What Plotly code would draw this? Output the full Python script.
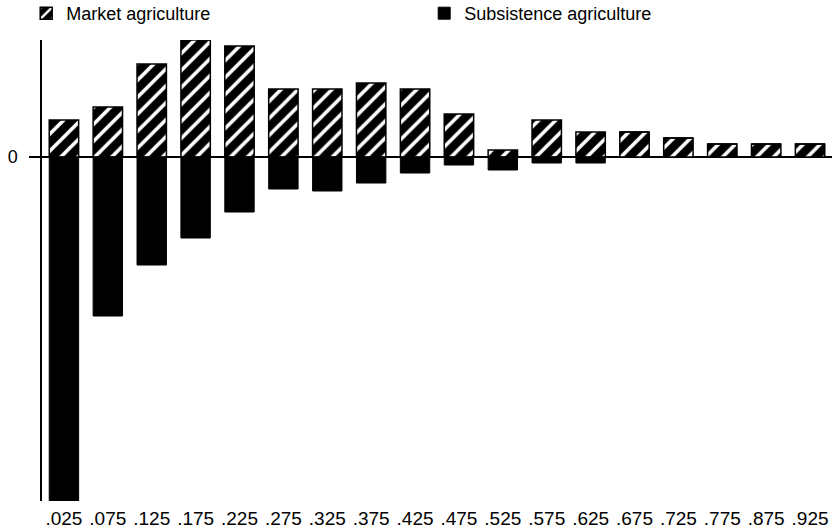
import plotly.graph_objects as go

categories = [".025", ".075", ".125", ".175", ".225", ".275", ".325", ".375", ".425",
              ".475", ".525", ".575", ".625", ".675", ".725", ".775", ".875", ".925"]
market = [37, 50, 93, 117, 111, 68, 68, 74, 68, 43, 7, 37, 25, 25, 19, 13, 13, 13]
subsistence = [-344, -159, -108, -81, -55, -32, -34, -26, -16, -8, -13, -6, -6, 0, 0, 0, 0, 0]

FONT = "Liberation Sans, Arial, sans-serif"

fig = go.Figure()
fig.add_trace(go.Bar(
    x=categories, y=market, name="Market agriculture",
    marker=dict(color="black",
                line=dict(color="black", width=1.5),
                pattern=dict(shape="/", bgcolor="black", fgcolor="white",
                             size=12, solidity=0.3, fillmode="replace")),
))
fig.add_trace(go.Bar(
    x=categories, y=subsistence, name="Subsistence agriculture",
    marker=dict(color="black", line=dict(color="black", width=1)),
))

fig.update_layout(
    width=832, height=529,
    margin=dict(l=42, r=0, t=40, b=28),
    paper_bgcolor="white", plot_bgcolor="white",
    barmode="relative", bargap=0.33,
    font=dict(family=FONT, color="black"),
    showlegend=True,
    legend=dict(orientation="h", x=-0.02, xanchor="left", y=1.0868, yanchor="top",
                font=dict(size=18, family=FONT), entrywidth=353,
                bgcolor="rgba(0,0,0,0)", traceorder="normal"),
    xaxis=dict(type="category", showline=False, ticks="", showgrid=False,
               tickfont=dict(size=19, family=FONT), tickangle=0, ticklabelstandoff=4,
               range=[-0.5, len(categories) - 0.5]),
    yaxis=dict(range=[-344, 117], showgrid=False, showline=True, linecolor="black",
               linewidth=1.5, zeroline=True, zerolinecolor="black", zerolinewidth=1.5,
               tickvals=[0], ticktext=["0"], ticks="outside", ticklen=11,
               tickcolor="black", tickwidth=1.5, ticklabelstandoff=8,
               tickfont=dict(size=18, family=FONT)),
)

post = """
document.body.style.margin='0';
document.body.style.overflow='hidden';
var lg = document.querySelector('g.legend');
if (lg) {
  var t = lg.getAttribute('transform') || '';
  var m = t.match(/translate\\(([-\\d.]+)[ ,]+([-\\d.]+)\\)/);
  if (m) { lg.setAttribute('transform', 'translate(' + m[1] + ',' + (parseFloat(m[2]) - 5) + ')'); }
}
"""

fig.write_html("out.html", config={"displayModeBar": False}, post_script=post)
